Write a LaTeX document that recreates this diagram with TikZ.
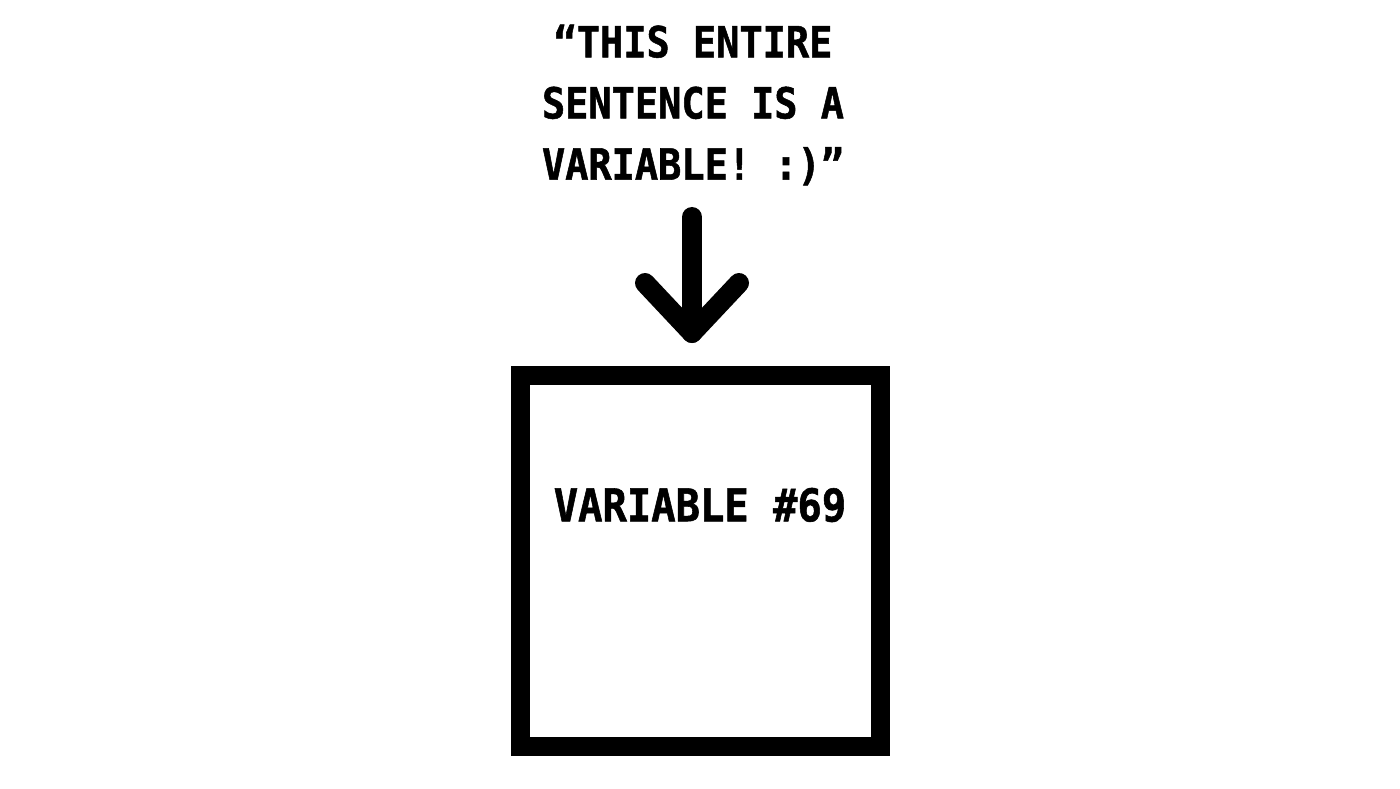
\documentclass[tikz,border=0pt]{standalone}
\usepackage{fontspec}
\newfontfamily\blockfont{DejaVu Sans Mono}[FakeStretch=0.9,BoldFeatures={FakeBold=1.2}]
\usetikzlibrary{positioning,calc}

\begin{document}
\begin{tikzpicture}[
  x=0.1mm,y=-0.1mm,
  heading/.style={font=\blockfont\bfseries\fontsize{12.2}{17.4}\selectfont,align=center,inner sep=0pt},
  varbox/.style={draw,line width=1.9mm,minimum width=36mm,minimum height=37.1mm,inner sep=0pt},
  varlabel/.style={font=\blockfont\bfseries\fontsize{12.8}{14}\selectfont,inner sep=0pt},
  fatline/.style={line width=2mm,line cap=round,line join=round}]
  \useasboundingbox (0,0) rectangle (1400,788);
  \node[heading] (sentence) at (693,105) {“THIS ENTIRE\\SENTENCE IS A\\VARIABLE! :)”};
  \node[varbox] (var) at (700.5,561) {};
  \node[varlabel] (varname) at (700,505) {VARIABLE \#69};
  % arrow from the sentence down to the box
  \coordinate (shaft) at (692,217);
  \coordinate (tip) at (692,333);
  \coordinate (lbarb) at (645,283);
  \coordinate (rbarb) at (739,283);
  \draw[fatline] (shaft) -- (tip);
  \draw[fatline] (lbarb) -- (tip) -- (rbarb);
\end{tikzpicture}
\end{document}
